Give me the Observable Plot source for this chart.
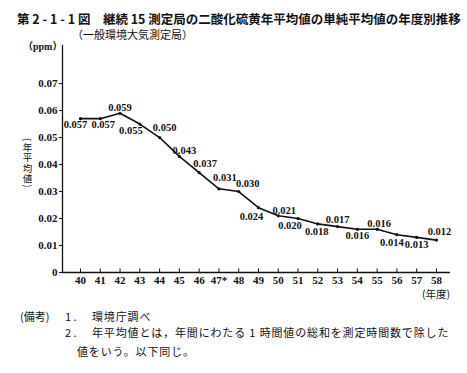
<!DOCTYPE html>
<html>
<head>
<meta charset="utf-8">
<script src="https://cdn.jsdelivr.net/npm/d3@7"></script>
<script src="https://cdn.jsdelivr.net/npm/@observablehq/plot@0.6"></script>
<style>
  html, body { margin: 0; padding: 0; background: #fff; }
  #wrap { position: relative; width: 467px; height: 373px; overflow: hidden; color: #111; font-family: "Noto Sans CJK JP", sans-serif; }
  .abs { position: absolute; white-space: nowrap; line-height: 1; }
  #chart { position: absolute; left: 0; top: 40px; }
  #ylab { position: absolute; left: 22px; top: 138px; font-size: 9.5px; line-height: 1; writing-mode: vertical-rl; text-orientation: mixed; letter-spacing: 1px; white-space: nowrap; }
</style>
</head>
<body>
<div id="wrap">
  <div class="abs" id="title" style="left:17px; top:13px; font-size:12.5px; font-weight:bold;">第 2 - 1 - 1 図　継続 15 測定局の二酸化硫黄年平均値の単純平均値の年度別推移</div>
  <div class="abs" style="left:72px; top:29px; font-size:11px;">（一般環境大気測定局）</div>
  <div class="abs" style="left:23px; top:42px; font-size:10px; font-family:'Liberation Serif','Noto Sans CJK JP',serif; font-weight:bold;">（ppm）</div>
  <div id="ylab">(年平均値)</div>
  <div class="abs" style="left:422px; top:289px; font-size:10.5px;">(年度)</div>
  <div class="abs" style="left:20px; top:311px; font-size:11px;">(備考)</div>
  <div class="abs" style="left:65px; top:311px; font-size:11px;">1 .</div>
  <div class="abs" style="left:92px; top:311px; font-size:11px; letter-spacing:0.85px;">環境庁調べ</div>
  <div class="abs" style="left:65px; top:327px; font-size:11px;">2 .</div>
  <div class="abs" style="left:92px; top:327px; font-size:11px; letter-spacing:0.85px;">年平均値とは，年間にわたる 1 時間値の総和を測定時間数で除した</div>
  <div class="abs" style="left:77px; top:346px; font-size:11px; letter-spacing:0.85px;">値をいう。以下同じ。</div>
  <div id="chart"></div>
</div>
<script>
// ---- data ----
const years = [40, 41, 42, 43, 44, 45, 46, 47, 48, 49, 50, 51, 52, 53, 54, 55, 56, 57, 58];
const xTickLabels = ["40", "41", "42", "43", "44", "45", "46", "47*", "48", "49", "50", "51", "52", "53", "54", "55", "56", "57", "58"];
const so2 = [0.057, 0.057, 0.059, 0.055, 0.050, 0.043, 0.037, 0.031, 0.030, 0.024, 0.021, 0.020, 0.018, 0.017, 0.016, 0.016, 0.014, 0.013, 0.012];
const yTicks = [0, 0.01, 0.02, 0.03, 0.04, 0.05, 0.06, 0.07];

// ---- label placement (style, not data) ----
const labelOffsets = [
  [-5, 6], [3, 6], [0, -6], [-9, 7], [5, -10], [5, -6], [6, -9], [6, -11], [9, -8], [-7, 9],
  [6, -5], [-8, 7], [-1, 8], [0, -7], [0, 6], [2, -6], [-5, 8], [0, 7], [3, -8]
];

const data = years.map((y, i) => ({year: y, value: so2[i], label: so2[i].toFixed(3)}));
const numFont = "Liberation Serif, DejaVu Serif, serif";

const labelMarks = data.map((d, i) => Plot.text([d], {
  x: "year", y: "value", text: "label",
  dx: labelOffsets[i][0], dy: labelOffsets[i][1],
  fontSize: 10.5, fontWeight: "bold", fontFamily: numFont, fill: "#111"
}));

const chart = Plot.plot({
  width: 467,
  height: 260,
  marginTop: 5,
  marginBottom: 28,
  marginLeft: 62,
  marginRight: 17,
  x: {type: "linear", domain: [39.09, 58.71]},
  y: {domain: [0, 0.0841]},
  style: {background: "transparent", color: "#111", fontFamily: numFont},
  marks: [
    Plot.ruleX([39.09], {stroke: "#111", strokeWidth: 1.3}),
    Plot.ruleY([0], {stroke: "#111", strokeWidth: 1.3}),
    Plot.ruleX(years, {x: d => d, y1: 0, y2: 0.0013, stroke: "#111", strokeWidth: 1}),
    Plot.axisY({ticks: yTicks, tickFormat: d => d === 0 ? "0" : d.toFixed(2), tickSize: 3, tickPadding: 2, fontSize: 11, fontWeight: "bold", fontFamily: numFont, label: null}),
    Plot.axisX({ticks: years, tickFormat: d => xTickLabels[years.indexOf(d)], tickSize: 0, tickPadding: 4, fontSize: 11, fontWeight: "bold", fontFamily: numFont, label: null}),
    Plot.line(data, {x: "year", y: "value", stroke: "#111", strokeWidth: 1.6}),
    Plot.dot(data, {x: "year", y: "value", r: 1.6, fill: "#111"}),
    ...labelMarks
  ]
});
document.getElementById("chart").appendChild(chart);
</script>
</body>
</html>
